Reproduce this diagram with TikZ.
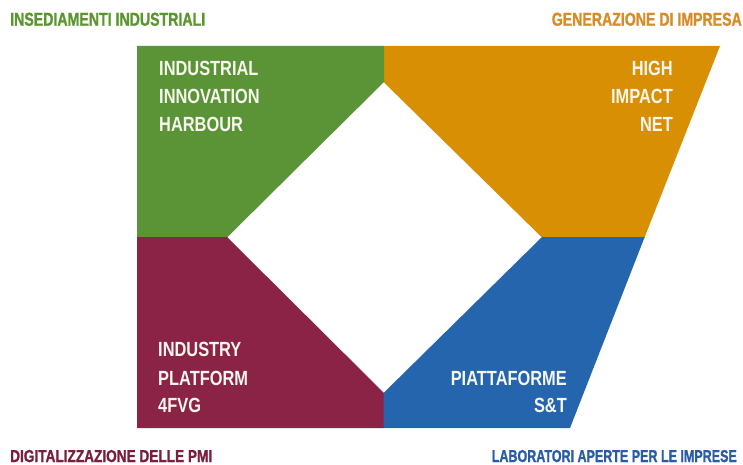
\documentclass[tikz,border=0pt]{standalone}
\usepackage{fontspec}
\setmainfont{Liberation Sans}
\newfontfamily\innerfont[FakeStretch=0.80]{Liberation Sans}
\newfontfamily\labelfont[FakeStretch=0.82, BoldFeatures={FakeBold=1.2}]{Liberation Sans}
\newcommand{\lblbox}[3]{\resizebox{#1}{#2}{#3}}
\definecolor{cgreen}{HTML}{5B9436}
\definecolor{corange}{HTML}{D88F04}
\definecolor{cmaroon}{HTML}{8B2347}
\definecolor{cblue}{HTML}{2465AD}
\definecolor{tgreen}{HTML}{5A962D}
\definecolor{torange}{HTML}{D78C28}
\definecolor{tmaroon}{HTML}{7A1E3E}
\definecolor{tblue}{HTML}{2A5CA6}
\definecolor{innertext}{HTML}{F6F6EE}
\begin{document}
\begin{tikzpicture}[x=1pt,y=-1pt,
  inner/.style={font=\innerfont\bfseries\fontsize{20.5}{24}\selectfont, text=innertext, inner sep=0pt},
  cornerlabel/.style={font=\labelfont\bfseries\fontsize{17}{20}\selectfont, inner sep=0pt}]
\useasboundingbox (0,0) rectangle (743,465);
% sectors
\fill[corange] (383.5,46) -- (720,46) -- (644.5,237.5) -- (542,237.5) -- (383.5,82) -- cycle;
\fill[cgreen] (137,46) -- (384,46) -- (384,82) -- (227,237.5) -- (137,237.5) -- cycle;
\fill[cmaroon] (137,237) -- (227,237) -- (384,393) -- (384,428) -- (137,428) -- cycle;
\fill[cblue] (542,237) -- (644.7,237) -- (570,428) -- (383.5,428) -- (383.5,393) -- cycle;
% inner texts
\node[inner, anchor=base west] (ii1) at (159,75.7) {INDUSTRIAL};
\node[inner, anchor=base west] (ii2) at (159,103.3) {INNOVATION};
\node[inner, anchor=base west] (ii3) at (159,131.3) {HARBOUR};
\node[inner, anchor=base east] (hi1) at (673,76) {HIGH};
\node[inner, anchor=base east] (hi2) at (673,104) {IMPACT};
\node[inner, anchor=base east] (hi3) at (673,132) {NET};
\node[inner, anchor=base west] (ip1) at (158,356.7) {INDUSTRY};
\node[inner, anchor=base west] (ip2) at (158,385) {PLATFORM};
\node[inner, anchor=base west] (ip3) at (158,412.7) {4FVG};
\node[inner, anchor=base east] (ps1) at (567,385) {PIATTAFORME};
\node[inner, anchor=base east] (ps2) at (567,412.7) {S\&T};
% corner labels
\node[cornerlabel, text=tgreen, anchor=base west] (l1) at (10,25.7) {\lblbox{195pt}{13pt}{INSEDIAMENTI INDUSTRIALI}};
\node[cornerlabel, text=torange, anchor=base east] (l2) at (742,25.7) {\lblbox{190pt}{13pt}{GENERAZIONE DI IMPRESA}};
\node[cornerlabel, text=tmaroon, anchor=base west] (l3) at (10,462) {\lblbox{202pt}{12pt}{DIGITALIZZAZIONE DELLE PMI}};
\node[cornerlabel, text=tblue, anchor=base east] (l4) at (737,462) {\lblbox{245pt}{12pt}{LABORATORI APERTE PER LE IMPRESE}};
\end{tikzpicture}
\end{document}
